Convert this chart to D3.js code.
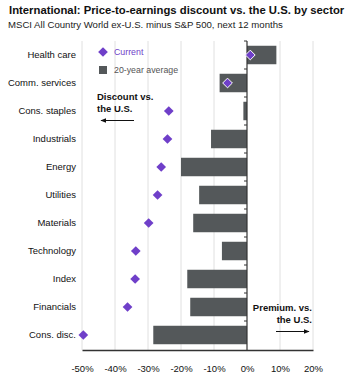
<!DOCTYPE html>
<html>
<head>
<meta charset="utf-8">
<script src="https://cdn.jsdelivr.net/npm/d3@7"></script>
<style>
  body { margin: 0; background: #fff; }
  text { font-family: "Liberation Sans", Arial, sans-serif; }
</style>
</head>
<body>
<div id="chart"></div>
<script>
// sectors, top to bottom
const sectors = ["Health care", "Comm. services", "Cons. staples", "Industrials", "Energy",
  "Utilities", "Materials", "Technology", "Index", "Financials", "Cons. disc."];
// 20-year average discount (%)
const avg20 = [8.9, -8.3, -1.1, -10.9, -20.0, -14.5, -16.3, -7.6, -18.1, -17.2, -28.4];
// current discount (%)
const current = [1.0, -5.9, -23.7, -24.1, -26.0, -27.1, -29.8, -33.7, -33.9, -36.2, -49.6];
const xTicks = [-50, -40, -30, -20, -10, 0, 10, 20];

const width = 350, height = 390;
const margin = { top: 41, right: 37, bottom: 40, left: 82 };

const svg = d3.select("#chart").append("svg")
  .attr("width", width).attr("height", height);

// title
svg.append("text").attr("x", 9).attr("y", 14)
  .attr("font-size", 11.3).attr("font-weight", "bold").attr("fill", "#111")
  .text("International: Price-to-earnings discount vs. the U.S. by sector");
svg.append("text").attr("x", 8).attr("y", 28)
  .attr("font-size", 9.6).attr("fill", "#222")
  .text("MSCI All Country World ex-U.S. minus S&P 500, next 12 months");

const x = d3.scaleLinear().domain([-50, 20]).range([margin.left, width - margin.right]);
const y = d3.scaleBand().domain(sectors)
  .range([margin.top, height - margin.bottom - 1]).paddingInner(0.34).paddingOuter(0.17);

// gridlines
svg.append("g").selectAll("line").data(xTicks.filter(d => d !== 0)).join("line")
  .attr("x1", d => x(d)).attr("x2", d => x(d))
  .attr("y1", margin.top).attr("y2", height - margin.bottom)
  .attr("stroke", "#e0e0e0").attr("stroke-width", 1);

// bars (20-year average)
svg.append("g").selectAll("rect").data(sectors).join("rect")
  .attr("x", (d, i) => x(Math.min(0, avg20[i])))
  .attr("width", (d, i) => Math.abs(x(avg20[i]) - x(0)))
  .attr("y", d => y(d))
  .attr("height", y.bandwidth())
  .attr("fill", "#54585a");

// zero line with small ticks at band boundaries
const zero = svg.append("g");
zero.append("line")
  .attr("x1", x(0)).attr("x2", x(0))
  .attr("y1", margin.top).attr("y2", height - margin.bottom)
  .attr("stroke", "#333").attr("stroke-width", 1.2);
const step = y.step();
const y0 = y(sectors[0]) - step * y.paddingOuter();
zero.selectAll("line.tk").data(d3.range(sectors.length)).join("line")
  .attr("class", "tk")
  .attr("x1", x(0) - 3).attr("x2", x(0))
  .attr("y1", i => y0 + i * step)
  .attr("y2", i => y0 + i * step)
  .attr("stroke", "#333").attr("stroke-width", 1);

// x axis
const xAxis = svg.append("g")
  .attr("transform", `translate(0,${height - margin.bottom})`)
  .call(d3.axisBottom(x).tickValues(xTicks).tickSize(0).tickPadding(15)
    .tickFormat(d => d + "%"));
xAxis.select(".domain").attr("stroke", "#333").attr("stroke-width", 1.5);
xAxis.selectAll("text").attr("font-size", 9.5).attr("fill", "#111")
  .attr("font-family", "Liberation Sans, Arial, sans-serif");

// category labels
svg.append("g").selectAll("text").data(sectors).join("text")
  .attr("x", margin.left - 6)
  .attr("y", d => y(d) + y.bandwidth() / 2)
  .attr("dy", "0.35em")
  .attr("text-anchor", "end")
  .attr("font-size", 9.5).attr("fill", "#111")
  .text(d => d);

// diamonds (current)
const diamond = d3.symbol().type(d3.symbolDiamond2).size(60);
svg.append("g").selectAll("path").data(sectors).join("path")
  .attr("d", diamond)
  .attr("transform", (d, i) => `translate(${x(current[i])},${y(d) + y.bandwidth() / 2})`)
  .attr("fill", "#6f3fc9")
  .attr("stroke", (d, i) => Math.abs(current[i]) < Math.abs(avg20[i]) && current[i] * avg20[i] > 0 ? "#fff" : "none")
  .attr("stroke-width", 1);

// legend
const lg = svg.append("g");
lg.append("path").attr("d", diamond)
  .attr("transform", "translate(103,52)").attr("fill", "#6f3fc9");
lg.append("text").attr("x", 114).attr("y", 52).attr("dy", "0.35em")
  .attr("font-size", 8.8).attr("fill", "#6f3fc9").text("Current");
lg.append("rect").attr("x", 99).attr("y", 66).attr("width", 8).attr("height", 8)
  .attr("fill", "#54585a");
lg.append("text").attr("x", 114).attr("y", 70).attr("dy", "0.35em")
  .attr("font-size", 8.8).attr("fill", "#555").text("20-year average");

// arrow marker
svg.append("defs").append("marker")
  .attr("id", "arr").attr("viewBox", "0 0 10 10").attr("refX", 9).attr("refY", 5)
  .attr("markerWidth", 6).attr("markerHeight", 6).attr("orient", "auto-start-reverse")
  .append("path").attr("d", "M0,1L10,5L0,9Z").attr("fill", "#111");

// discount annotation
svg.append("text").attr("x", 97).attr("y", 100)
  .attr("font-size", 9.5).attr("font-weight", "bold").attr("fill", "#111")
  .selectAll("tspan").data(["Discount  vs.", "the U.S."]).join("tspan")
  .attr("x", 97).attr("dy", (d, i) => i ? 11.5 : 0).text(d => d);
svg.append("line").attr("x1", 134).attr("x2", 101).attr("y1", 120.5).attr("y2", 120.5)
  .attr("stroke", "#111").attr("stroke-width", 1).attr("marker-end", "url(#arr)");

// premium annotation
svg.append("text").attr("x", 312).attr("y", 311)
  .attr("font-size", 9.5).attr("font-weight", "bold").attr("fill", "#111")
  .attr("text-anchor", "end")
  .selectAll("tspan").data(["Premium. vs.", "the U.S."]).join("tspan")
  .attr("x", 312).attr("dy", (d, i) => i ? 11.5 : 0).text(d => d);
svg.append("line").attr("x1", 276).attr("x2", 309).attr("y1", 331.5).attr("y2", 331.5)
  .attr("stroke", "#111").attr("stroke-width", 1).attr("marker-end", "url(#arr)");
</script>
</body>
</html>
